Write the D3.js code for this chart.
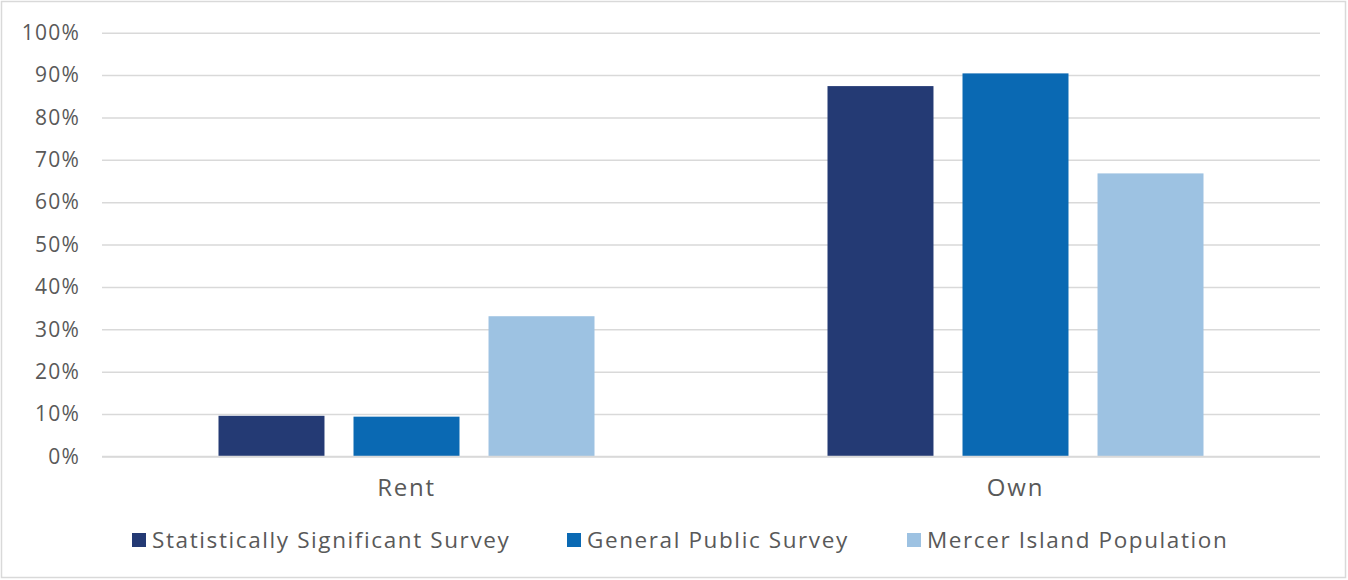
<!DOCTYPE html>
<html>
<head>
<meta charset="utf-8">
<script src="https://cdn.jsdelivr.net/npm/d3@7"></script>
<style>
  html, body { margin: 0; padding: 0; background: #fff; }
  svg text { font-family: "Open Sans", sans-serif; fill: #595959; }
</style>
</head>
<body>
<svg id="chart" width="1348" height="580"></svg>
<script>
const categories = ["Rent", "Own"];
const seriesNames = ["Statistically Significant Survey", "General Public Survey", "Mercer Island Population"];
const statSignificant = [0.096, 0.874];
const generalPublic = [0.094, 0.904];
const mercerPopulation = [0.331, 0.668];
const yTicks = [0, 0.1, 0.2, 0.3, 0.4, 0.5, 0.6, 0.7, 0.8, 0.9, 1.0];
const colors = ["#243A74", "#0A69B3", "#9DC2E2"];

const seriesValues = [statSignificant, generalPublic, mercerPopulation];
const data = categories.map((c, i) => ({
  category: c,
  values: seriesNames.map((s, j) => ({ series: s, value: seriesValues[j][i] }))
}));

const svg = d3.select("#chart");
const W = 1348, H = 580;

svg.append("rect")
  .attr("x", 1.5).attr("y", 1.5).attr("width", W - 4).attr("height", H - 4)
  .attr("fill", "#fff").attr("stroke", "#d9d9d9").attr("stroke-width", 1.5);

const plotLeft = 102, plotRight = 1320, plotTop = 32.7, plotBottom = 456.5;

const y = d3.scaleLinear().domain([0, 1]).range([plotBottom, plotTop]);
const x0 = d3.scaleBand().domain(categories).range([plotLeft, plotRight]).padding(0);
const groupPad = 116.5;
const x1 = d3.scaleBand().domain(seriesNames)
  .range([groupPad, x0.bandwidth() - groupPad]).paddingInner(0.215).paddingOuter(0);

// gridlines
const yAxis = d3.axisLeft(y).tickValues(yTicks).tickFormat(d3.format(".0%"))
  .tickSize(-(plotRight - plotLeft)).tickPadding(22);
const gy = svg.append("g").attr("transform", `translate(${plotLeft},0)`).call(yAxis);
gy.select(".domain").remove();
gy.selectAll(".tick line").attr("stroke", "#d9d9d9").attr("stroke-width", 1.5);
gy.selectAll(".tick text").attr("font-size", 21).attr("fill", "#595959")
  .style("font-family", "'Open Sans', sans-serif").style("letter-spacing", "1.2px");

// bars
const groups = svg.append("g").selectAll("g").data(data).join("g")
  .attr("transform", d => `translate(${x0(d.category)},0)`);
groups.selectAll("rect").data(d => d.values).join("rect")
  .attr("x", d => x1(d.series))
  .attr("y", d => y(d.value))
  .attr("width", x1.bandwidth())
  .attr("height", d => y(0) - y(d.value))
  .attr("fill", (d, i) => colors[i]);

// baseline
svg.append("line").attr("x1", plotLeft).attr("x2", plotRight)
  .attr("y1", y(0)).attr("y2", y(0)).attr("stroke", "#d9d9d9").attr("stroke-width", 1.5);

// category axis labels
const xAxis = d3.axisBottom(x0).tickSize(0).tickPadding(22);
const gx = svg.append("g").attr("transform", `translate(0,${plotBottom})`).call(xAxis);
gx.select(".domain").remove();
gx.selectAll(".tick text").attr("font-size", 24).attr("fill", "#595959")
  .style("font-family", "'Open Sans', sans-serif").style("letter-spacing", "1.8px");

// legend
const legendX = [132, 567, 907];
const legendY = 540;
const lg = svg.append("g").selectAll("g").data(seriesNames).join("g")
  .attr("transform", (d, i) => `translate(${legendX[i]},${legendY})`);
lg.append("rect").attr("x", 0).attr("y", -7).attr("width", 14).attr("height", 14)
  .attr("fill", (d, i) => colors[i]);
lg.append("text").attr("x", 20).attr("y", 0).attr("dy", "0.35em")
  .attr("font-size", 22.5).style("letter-spacing", "1.6px").text(d => d);
</script>
</body>
</html>
